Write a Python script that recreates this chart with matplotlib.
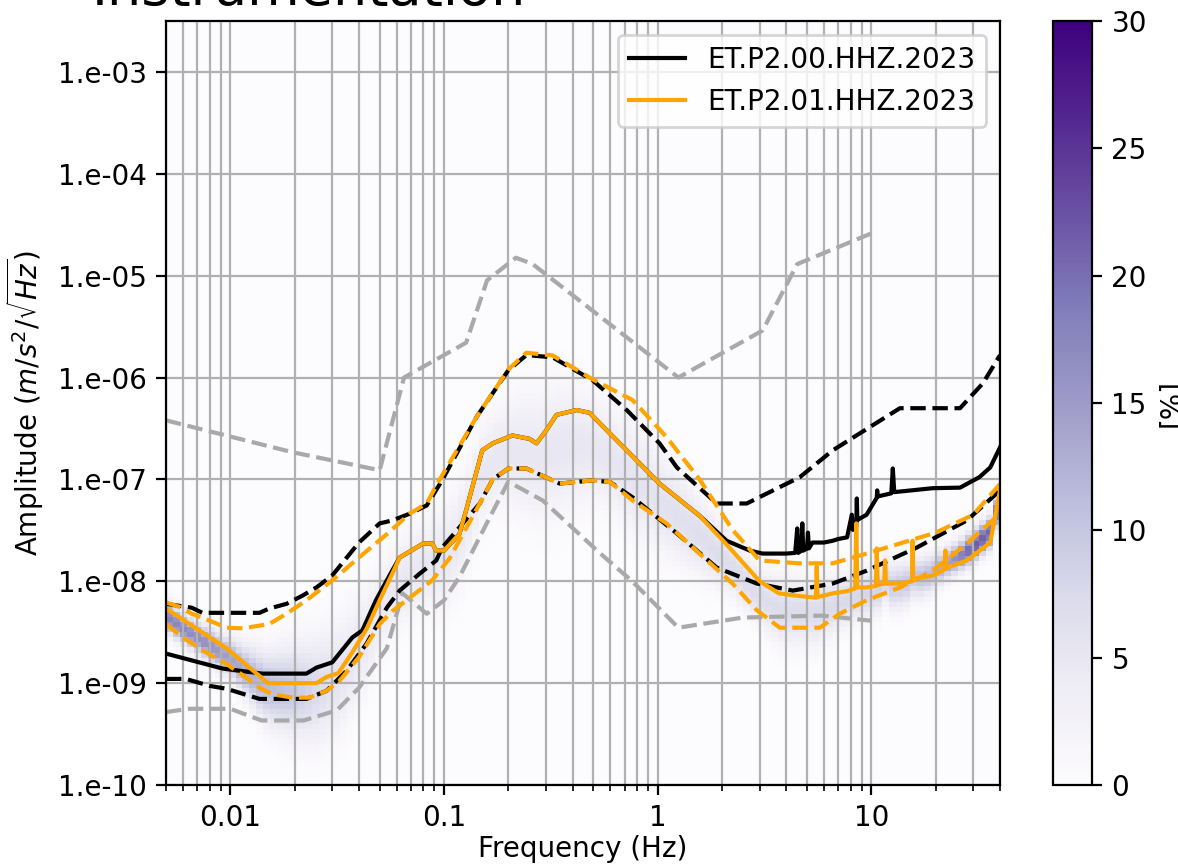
import numpy as np
import matplotlib
matplotlib.use('Agg')
import matplotlib.pyplot as plt
from matplotlib.ticker import FuncFormatter, NullLocator, FixedLocator

# noise models (grey dashed)
nhnm_f = [0.005, 0.0195, 0.05, 0.065, 0.127, 0.159, 0.217, 0.26, 1.25, 3.1, 4.5, 10]
nhnm_a = [3.8e-7, 1.85e-7, 1.23e-7, 1.0e-6, 2.2e-6, 9.0e-6, 1.5e-5, 1.3e-5, 1.0e-6, 2.9e-6, 1.3e-5, 2.6e-5]
nlnm_f = [0.005, 0.0064, 0.01, 0.014, 0.022, 0.0315, 0.04, 0.054, 0.064, 0.083, 0.1, 0.118,
          0.167, 0.2, 0.29, 0.535, 0.76, 1.25, 2.5, 5.85, 10]
nlnm_a = [5.2e-10, 5.6e-10, 5.6e-10, 4.3e-10, 4.3e-10, 5.4e-10, 9.0e-10, 2.2e-9, 7.6e-9, 4.8e-9, 6.5e-9, 1.1e-8,
          4.6e-8, 9.5e-8, 6.2e-8, 1.9e-8, 1.0e-8, 3.5e-9, 4.4e-9, 4.6e-9, 4.1e-9]

# ET.P2.00 median (with its spikes) and percentiles
p00_med_f = [0.005, 0.0092, 0.0141, 0.0227, 0.0253, 0.03, 0.0372, 0.0415, 0.048, 0.0556, 0.062, 0.08, 0.088,
             0.092, 0.1, 0.118, 0.127, 0.151, 0.169, 0.209, 0.251, 0.271, 0.3, 0.336, 0.418, 0.48, 0.6, 0.716,
             1.02, 1.57, 2.1, 2.7, 3.1, 4.0, 4.4, 4.5, 4.55, 4.7, 4.75, 4.8, 5.0, 5.05, 5.1, 5.3, 6.0, 6.6,
             7.0, 7.7, 8.1, 8.2, 8.5, 8.55, 8.6, 9.5, 10.6, 10.65, 10.7, 12.4, 12.6, 12.8, 19.4, 26, 32, 36,
             40]
p00_med_a = [1.95e-9, 1.39e-9, 1.24e-9, 1.24e-9, 1.42e-9, 1.6e-9, 2.8e-9, 3.3e-9, 6.5e-9, 1.14e-8, 1.71e-8,
             2.35e-8, 2.35e-8, 2.0e-8, 2.0e-8, 2.9e-8, 5.0e-8, 1.93e-7, 2.26e-7, 2.7e-7, 2.5e-7, 2.26e-7,
             3.0e-7, 4.3e-7, 4.8e-7, 4.5e-7, 2.8e-7, 1.93e-7, 9.1e-8, 4.4e-8, 2.5e-8, 2.0e-8, 1.87e-8,
             1.87e-8, 1.9e-8, 3.3e-8, 1.9e-8, 2.0e-8, 3.7e-8, 2.0e-8, 2.1e-8, 3.0e-8, 2.1e-8, 2.4e-8, 2.4e-8,
             2.5e-8, 2.6e-8, 2.7e-8, 4.5e-8, 3.2e-8, 3.5e-8, 6.5e-8, 4.0e-8, 4.5e-8, 6.6e-8, 7.8e-8, 6.8e-8,
             7.3e-8, 1.28e-7, 7.5e-8, 8.2e-8, 8.3e-8, 1.05e-7, 1.31e-7, 2.06e-7]
p00_hi_f = [0.005, 0.0066, 0.0074, 0.0137, 0.0152, 0.0183, 0.0217, 0.0253, 0.03, 0.04, 0.05, 0.0574, 0.069,
            0.083, 0.098, 0.142, 0.2, 0.243, 0.322, 0.496, 0.716, 1.02, 1.23, 1.89, 2.61, 4.62, 6.6, 13.6,
            26, 33.3, 40]
p00_hi_a = [6.0e-9, 5.5e-9, 4.9e-9, 4.9e-9, 5.4e-9, 6.0e-9, 7.2e-9, 8.7e-9, 1.14e-8, 2.4e-8, 3.7e-8, 3.96e-8,
            4.6e-8, 5.55e-8, 9.8e-8, 4.1e-7, 1.18e-6, 1.66e-6, 1.58e-6, 9.4e-7, 4.8e-7, 2.26e-7, 1.31e-7,
            5.8e-8, 5.8e-8, 1.05e-7, 1.93e-7, 5.0e-7, 5.0e-7, 8.8e-7, 1.66e-6]
p00_lo_f = [0.005, 0.0062, 0.008, 0.0096, 0.0137, 0.0227, 0.0282, 0.035, 0.0434, 0.054, 0.062, 0.077, 0.092,
            0.098, 0.147, 0.169, 0.2, 0.243, 0.348, 0.496, 0.6, 0.764, 1.23, 1.89, 2.91, 4.29, 6.6, 9.5, 16.3,
            28, 40]
p00_lo_a = [1.1e-9, 1.1e-9, 9.4e-10, 8.8e-10, 7.0e-10, 7.0e-10, 8.4e-10, 1.32e-9, 2.44e-9, 5.5e-9, 8.1e-9,
            1.19e-8, 1.6e-8, 2.14e-8, 5.8e-8, 1.0e-7, 1.28e-7, 1.28e-7, 9.1e-8, 9.8e-8, 9.4e-8, 6.65e-8,
            2.95e-8, 1.36e-8, 9.5e-9, 8.1e-9, 9.5e-9, 1.27e-8, 2.14e-8, 3.96e-8, 7.8e-8]

# ET.P2.01 median (with its spikes) and percentiles
p01_med_f = [0.005, 0.0096, 0.015, 0.0253, 0.0282, 0.032, 0.0372, 0.0434, 0.05, 0.0574, 0.062, 0.08, 0.088,
             0.092, 0.1, 0.118, 0.127, 0.151, 0.169, 0.209, 0.251, 0.271, 0.3, 0.336, 0.418, 0.48, 0.6, 0.716,
             1.02, 1.57, 2.1, 3.0, 3.7, 4.5, 5.5, 5.55, 5.6, 6.6, 7.7, 8.4, 8.5, 8.6, 9.5, 10.5, 10.6, 10.7,
             11.5, 11.6, 11.7, 13.6, 15.5, 15.6, 15.7, 19.4, 22, 22.2, 22.4, 28, 36, 40]
p01_med_a = [5.4e-9, 2.2e-9, 1.0e-9, 1.0e-9, 1.15e-9, 1.25e-9, 2.0e-9, 3.4e-9, 6.5e-9, 1.2e-8, 1.71e-8,
             2.35e-8, 2.35e-8, 2.0e-8, 2.0e-8, 2.9e-8, 5.0e-8, 1.93e-7, 2.26e-7, 2.7e-7, 2.5e-7, 2.26e-7,
             3.0e-7, 4.3e-7, 4.8e-7, 4.5e-7, 2.8e-7, 1.93e-7, 9.1e-8, 4.4e-8, 2.3e-8, 1.0e-8, 7.6e-9, 7.2e-9,
             6.9e-9, 1.4e-8, 7.0e-9, 7.6e-9, 8.0e-9, 8.5e-9, 3.7e-8, 8.7e-9, 8.7e-9, 9.0e-9, 2.1e-8, 9.2e-9,
             9.5e-9, 1.6e-8, 9.5e-9, 9.5e-9, 1.0e-8, 2.5e-8, 1.05e-8, 1.14e-8, 1.3e-8, 2.0e-8, 1.35e-8,
             1.6e-8, 2.4e-8, 7.8e-8]
p01_hi_f = [0.005, 0.0058, 0.0066, 0.008, 0.0096, 0.0114, 0.0152, 0.0183, 0.0227, 0.03, 0.04, 0.054, 0.069,
            0.083, 0.095, 0.142, 0.2, 0.243, 0.322, 0.496, 0.764, 1.1, 1.57, 2.24, 3.0, 4.6, 6.6, 9.5, 20,
            30, 40]
p01_hi_a = [6.2e-9, 5.6e-9, 4.8e-9, 4.1e-9, 3.5e-9, 3.45e-9, 3.8e-9, 4.8e-9, 6.5e-9, 1.02e-8, 1.71e-8,
            2.9e-8, 4.6e-8, 5.8e-8, 9.8e-8, 4.1e-7, 1.2e-6, 1.75e-6, 1.65e-6, 9.6e-7, 6.0e-7, 2.6e-7, 1.0e-7,
            3.2e-8, 1.6e-8, 1.5e-8, 1.5e-8, 1.87e-8, 3.0e-8, 4.5e-8, 9.0e-8]
p01_lo_f = [0.005, 0.006, 0.0074, 0.0096, 0.0119, 0.0137, 0.0157, 0.0195, 0.0234, 0.0282, 0.0324, 0.04,
            0.05, 0.0574, 0.071, 0.088, 0.106, 0.147, 0.169, 0.2, 0.243, 0.348, 0.496, 0.6, 0.764, 1.1, 1.57,
            2.24, 2.91, 3.73, 5.74, 7.1, 9.5, 13.6, 19.4, 28, 40]
p01_lo_a = [3.8e-9, 2.8e-9, 2.1e-9, 1.54e-9, 1.13e-9, 9.0e-10, 7.8e-10, 7.2e-10, 7.2e-10, 8.4e-10, 1.05e-9,
            1.8e-9, 3.8e-9, 5.1e-9, 7.2e-9, 1.02e-8, 1.67e-8, 5.8e-8, 1.0e-7, 1.28e-7, 1.28e-7, 9.1e-8,
            9.8e-8, 9.4e-8, 6.2e-8, 3.7e-8, 1.87e-8, 9.5e-9, 5.2e-9, 3.5e-9, 3.5e-9, 4.8e-9, 6.5e-9, 8.7e-9,
            1.27e-8, 2.35e-8, 4.6e-8]

hist_peak_f = [0.005, 0.008, 0.012, 0.02, 0.03, 0.05, 0.1, 0.2, 0.5, 1, 2, 5, 10, 20, 30, 40]
hist_peak_pct = [18, 16, 13, 10, 6, 4.5, 5, 5, 5, 6, 7, 7, 8, 12, 22, 20]

labels = ['ET.P2.00.HHZ.2023', 'ET.P2.01.HHZ.2023']


def loginterp(x, xp, yp):
    return np.interp(np.log10(x), np.log10(xp), np.log10(yp))


fig = plt.figure(figsize=(5.89, 4.34), dpi=200)
ax = fig.add_axes([166 / 1178, 83 / 868, 834 / 1178, 764 / 868])
cax = fig.add_axes([1053 / 1178, 83 / 868, 39 / 1178, 764 / 868])

# background histogram built around the P2.01 distribution
fe = np.logspace(np.log10(0.005), np.log10(40), 121)
ae = np.logspace(-10, -2.5, 151)
fc = np.sqrt(fe[1:] * fe[:-1])
lac = np.log10(np.sqrt(ae[1:] * ae[:-1]))
centre = 0.5 * (loginterp(fc, p01_med_f, p01_med_a) + loginterp(fc, p01_lo_f, p01_lo_a))
spread = (loginterp(fc, p01_hi_f, p01_hi_a) - loginterp(fc, p01_lo_f, p01_lo_a)) / 3.0
spread = np.maximum(spread, 0.1)
peak = 10 ** loginterp(fc, hist_peak_f, hist_peak_pct)
hist = peak[None, :] * np.exp(-0.5 * ((lac[:, None] - centre[None, :]) / spread[None, :]) ** 2)
mesh = ax.pcolormesh(fe, ae, hist, cmap='Purples', vmin=0, vmax=30, shading='flat', zorder=0)

ax.plot(nhnm_f, nhnm_a, '--', color='darkgray', lw=1.5)
ax.plot(nlnm_f, nlnm_a, '--', color='darkgray', lw=1.5)

ax.plot(p00_med_f, p00_med_a, '-', color='k', lw=1.5, label=labels[0])
ax.plot(p00_hi_f, p00_hi_a, '--', color='k', lw=1.5)
ax.plot(p00_lo_f, p00_lo_a, '--', color='k', lw=1.5)
ax.plot(p01_med_f, p01_med_a, '-', color='orange', lw=1.5, label=labels[1])
ax.plot(p01_hi_f, p01_hi_a, '--', color='orange', lw=1.5)
ax.plot(p01_lo_f, p01_lo_a, '--', color='orange', lw=1.5)

ax.set_xscale('log')
ax.set_yscale('log')
ax.set_xlim(0.005, 40)
ax.set_ylim(1e-10, 10 ** -2.5)
ax.yaxis.set_major_locator(FixedLocator([10.0 ** k for k in range(-10, -2)]))
ax.yaxis.set_minor_locator(NullLocator())
ax.yaxis.set_major_formatter(FuncFormatter(lambda v, _: f'{v:#.0e}'))
ax.xaxis.set_major_formatter(FuncFormatter(lambda v, _: f'{v:g}'))
ax.grid(True, which='both', axis='x')
ax.grid(True, which='major', axis='y')
for gl in ax.get_xgridlines() + ax.get_ygridlines():
    gl.set_zorder(0.5)
ax.set_xlabel('Frequency (Hz)', labelpad=1)
ax.set_ylabel(r'Amplitude ($m/s^2/\sqrt{Hz}$)')
ax.legend(loc='upper right')

cb = fig.colorbar(mesh, cax=cax)
cb.set_label('[%]')

fig.text(92 / 1178, 1 - 5 / 868, 'Instrumentation', fontsize=19.5, ha='left', va='baseline')

fig.savefig('out.png', dpi=200)
